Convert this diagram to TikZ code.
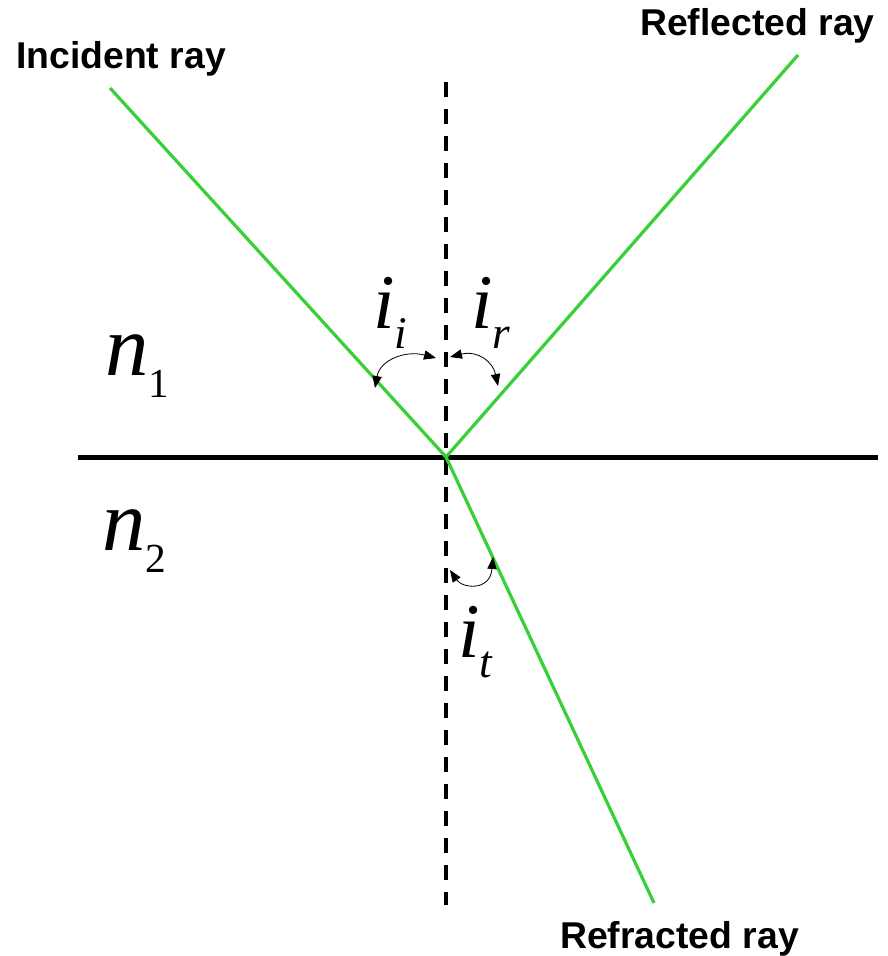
\documentclass[tikz,border=0pt]{standalone}
\usepackage{fontspec}
\setmainfont{Liberation Serif}
\newfontfamily\raylabelfont{Liberation Sans}
\usetikzlibrary{arrows.meta}
\definecolor{raygreen}{RGB}{55,208,55}
\tikzset{
  ray/.style={draw=raygreen, line width=2.4pt},
  interface/.style={draw=black, line width=3.75pt},
  normal/.style={draw=black, line width=3pt, dash pattern=on 11.25pt off 9pt},
  anglearc/.style={draw=black, line width=0.6pt, {Triangle[length=9pt,width=7pt]}-{Triangle[length=9pt,width=7pt]}},
  raylabel/.style={anchor=base west, inner sep=0pt, font=\raylabelfont\bfseries\fontsize{28}{28}\selectfont},
  symlabel/.style={anchor=base west, inner sep=0pt},
}
\newcommand{\symmain}[1]{{\fontsize{58}{58}\selectfont\itshape #1}}
\newcommand{\symsub}[1]{\raisebox{-15.5pt}{\fontsize{34}{34}\selectfont\itshape #1}}
\newcommand{\nmain}[1]{{\fontsize{65}{65}\selectfont\itshape #1}}
\newcommand{\nsub}[1]{\raisebox{-17pt}{\fontsize{31}{31}\selectfont #1}}
\begin{document}
\begin{tikzpicture}[x=0.75pt, y=-0.75pt]
\useasboundingbox (0,0) rectangle (888,956);
% coordinates
\coordinate (O) at (446,457);
\coordinate (A) at (110,88);
\coordinate (B) at (798,55);
\coordinate (C) at (654,903);
\coordinate (L) at (78,457);
\coordinate (R) at (878,457);
\coordinate (T) at (446,82);
\coordinate (D) at (446,905);
% lines
\draw[interface] (L) -- (R);
\draw[normal] (T) -- (D);
\draw[ray] (A) -- (O);
\draw[ray] (O) -- (B);
\draw[ray] (O) -- (C);
% angle arcs
\coordinate (ii1) at (375,388);
\coordinate (ii2) at (436,358);
\coordinate (ir1) at (450,357);
\coordinate (ir2) at (498,386);
\coordinate (it1) at (450,570);
\coordinate (it2) at (493,557);
\draw[anglearc] (ii1) .. controls (380,360) and (405,350) .. (ii2);
\draw[anglearc] (ir1) .. controls (478,350) and (493,362) .. (ir2);
\draw[anglearc] (it1) .. controls (462,588) and (490,592) .. (it2);
% labels
\node[raylabel] (inc) at (16,69) {Incident ray};
\node[raylabel] (refl) at (640,36) {Reflected ray};
\node[raylabel] (refr) at (560,948) {Refracted ray};
\node[symlabel] (n1) at (105,375) {\nmain{n}\nsub{1}};
\node[symlabel] (n2) at (102,550) {\nmain{n}\nsub{2}};
\node[symlabel] (ii) at (373,328) {\symmain{i}\symsub{i}};
\node[symlabel] (ir) at (471,328) {\symmain{i}\symsub{r}};
\node[symlabel] (it) at (458,657) {\symmain{i}\symsub{t}};
\end{tikzpicture}
\end{document}
